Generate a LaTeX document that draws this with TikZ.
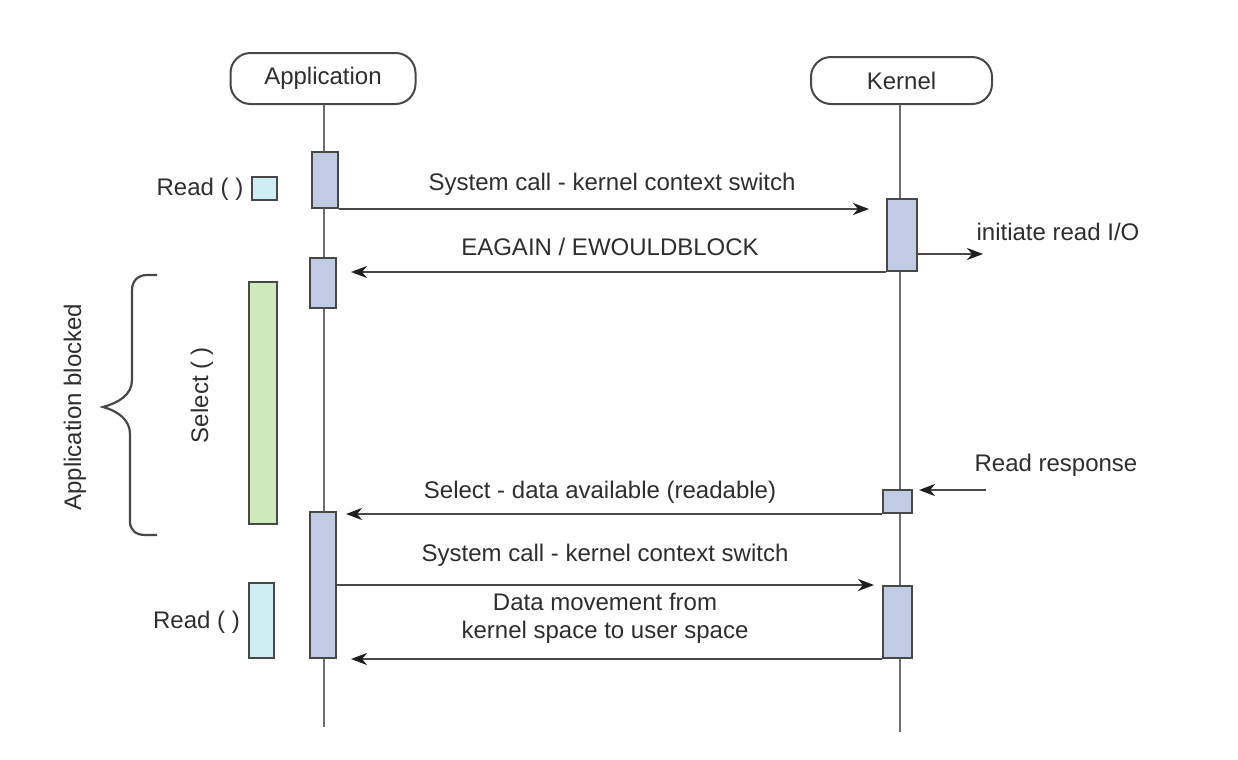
\documentclass[tikz,border=0pt]{standalone}
\usepackage{fontspec}
\setmainfont{Liberation Sans}
\usepackage{xcolor}
\usepackage{tikz}
\usetikzlibrary{arrows.meta}

\definecolor{lineGray}{HTML}{6E6E6E}
\definecolor{edgeGray}{HTML}{484848}
\definecolor{tipGray}{HTML}{1E1E1E}
\definecolor{actFill}{HTML}{C1CBE3}
\definecolor{readFill}{HTML}{CFEEF4}
\definecolor{selFill}{HTML}{CFE9BD}
\definecolor{txtGray}{HTML}{2E2E2E}

\begin{document}
\begin{tikzpicture}[x=0.5pt, y=-0.5pt,
  every node/.style={font=\fontsize{12}{14}\selectfont, text=txtGray},
  head/.style={draw=edgeGray, line width=1pt, rounded corners=10pt, fill=white, inner sep=0pt},
  lifeline/.style={draw=lineGray, line width=1.3pt},
  actbox/.style={draw=edgeGray, line width=1pt, fill=actFill, inner sep=0pt},
  sidebox/.style={draw=edgeGray, line width=1pt, inner sep=0pt},
  msg/.style={draw=edgeGray, line width=1.1pt, -{Stealth[length=8pt, width=6pt, inset=2.5pt, color=tipGray]}}]
\useasboundingbox (0,0) rectangle (1238,760);

% lifelines
\coordinate (appEnd) at (324,727);
\coordinate (kerEnd) at (900,732);
\node[head, minimum width=92.5pt, minimum height=25.5pt] (app) at (323,78.5) {Application};
\node[head, minimum width=90.5pt, minimum height=23.5pt] (ker) at (901.5,80.5) {Kernel};
\draw[lifeline] (appEnd |- app.south) -- (appEnd);
\draw[lifeline] (kerEnd |- ker.south) -- (kerEnd);

% activations
\node[actbox, minimum width=13pt, minimum height=28pt] (A1) at (325,180) {};
\node[actbox, minimum width=13pt, minimum height=25pt] (A2) at (323,283) {};
\node[actbox, minimum width=13pt, minimum height=73pt] (A3) at (323,585) {};
\node[actbox, minimum width=15pt, minimum height=36pt] (K1) at (902,235) {};
\node[actbox, minimum width=14.5pt, minimum height=11.5pt] (K2) at (897.5,501.5) {};
\node[actbox, minimum width=14.5pt, minimum height=36pt] (K3) at (897.5,622) {};

% messages
\draw[msg, shorten >=8.5pt] (A1.south east) -- (A1.south east -| K1.west);
\node (sys1) at (612,184) {System call - kernel context switch};
\draw[msg, shorten >=7pt] (K1.south west) -- (K1.south west -| A2.east);
\node (again) at (610,247) {EAGAIN / EWOULDBLOCK};
\coordinate (io) at (983,254);
\draw[msg] (K1.east |- io) -- (io);
\node (iolbl) at (1058,232) {initiate read I/O};
\coordinate (rr) at (986,490);
\draw[msg, shorten >=3pt] (rr) -- (rr -| K2.east);
\node (rrlbl) at (1056,465) {Read response};
\draw[msg, shorten >=4.5pt] (K2.south west) -- (K2.south west -| A3.east);
\node (avail) at (600,492) {Select - data available (readable)};
\draw[msg, shorten >=4pt] (A3.east |- K3.north) -- (K3.north west);
\node (sys2) at (605,555) {System call - kernel context switch};
\draw[msg, shorten >=7pt] (K3.south west) -- (K3.south west -| A3.east);
\node[align=center] (move) at (605,618) {Data movement from\\kernel space to user space};

% application side
\node (read1) at (200,189) {Read ( )};
\node[sidebox, fill=readFill, minimum width=12.5pt, minimum height=11.5pt] (R1) at (264.5,188.5) {};
\node[sidebox, fill=selFill, minimum width=14pt, minimum height=121pt] (sel) at (263,403) {};
\node[rotate=90] (sellbl) at (202,395) {Select ( )};
\node (read2) at (196.5,622) {Read ( )};
\node[sidebox, fill=readFill, minimum width=12.5pt, minimum height=37.5pt] (R2) at (261.5,620.5) {};
% brace
\draw[edgeGray, line width=1.1pt] (157,275) -- (147,275) .. controls (138,275) and (132,281) .. (132,290)
  -- (132,380) .. controls (132,395) and (118,403) .. (103,407)
  .. controls (118,411) and (130,420) .. (130,434) -- (130,522)
  .. controls (130,530) and (136,535) .. (145,535) -- (157,535);
\node[rotate=90] (blocked) at (75,407) {Application blocked};
\end{tikzpicture}
\end{document}
